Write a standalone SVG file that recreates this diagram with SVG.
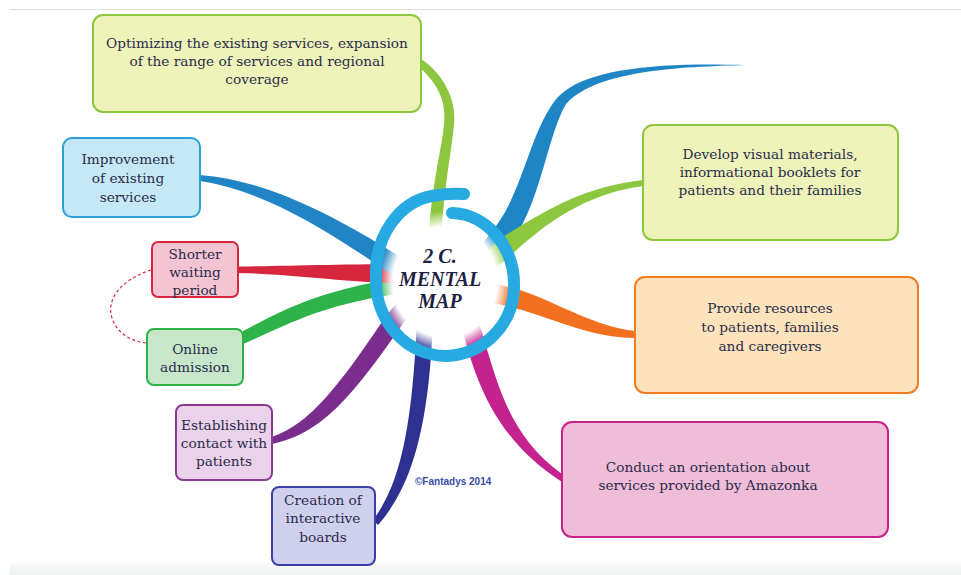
<svg xmlns="http://www.w3.org/2000/svg" width="961" height="575" viewBox="0 0 961 575">
  <defs>
    <radialGradient id="coreFade" cx="0.5" cy="0.5" r="0.5">
      <stop offset="0" stop-color="#ffffff" stop-opacity="1"/>
      <stop offset="0.78" stop-color="#ffffff" stop-opacity="1"/>
      <stop offset="1" stop-color="#ffffff" stop-opacity="0"/>
    </radialGradient>
    <linearGradient id="footBand" x1="0" y1="0" x2="0" y2="1">
      <stop offset="0" stop-color="#fafbfb"/>
      <stop offset="1" stop-color="#eef1f1"/>
    </linearGradient>
    <style>
      .box { stroke-width: 2; }
      .lbl { font-family: "DejaVu Serif", "Liberation Serif", serif; font-size: 13.7px; fill: #2b2c4c; text-anchor: middle; }
      .title { font-family: "Liberation Serif", "DejaVu Serif", serif; font-size: 20px; font-weight: bold; font-style: italic; fill: #1f1f45; text-anchor: middle; }
      .credit { font-family: "Liberation Sans", Arial, sans-serif; font-size: 10px; font-weight: bold; fill: #3a4ca6; }
    </style>
  </defs>

  <rect width="961" height="575" fill="#ffffff"/>
  <line x1="10" y1="9.5" x2="961" y2="9.5" stroke="#dddddd" stroke-width="1"/>
  <rect x="10" y="563" width="951" height="12" fill="url(#footBand)"/>

  <!-- tapered branches radiating from the hub -->
  <g id="connectors">
    <!-- to "Optimizing" -->
    <path fill="#8dc63f" d="M421,59 C443,73 457,100 454,125 C451,156 443,190 441,248 L428,248 C431,185 441,154 444,125 C447,101 437,83 420,68 Z"/>
    <!-- free blue branch, top right -->
    <path fill="#1f86c6" d="M477,252 L491,232 C522,198 529,132 557,98 C587,64 680,63 745,65 C680,67 597,70 566,104 C546,138 540,212 505,250 L490,267 Z"/>
    <!-- to "Develop visual materials" -->
    <path fill="#8dc63f" d="M480,258 L498,240 C540,214 580,187 643,180 L643,186 C586,194 546,222 508,258 L488,274 Z"/>
    <!-- to "Provide resources" -->
    <path fill="#f37021" d="M476,283 L492,284 C540,289 582,325 635,331 L635,338 C584,338 540,311 492,303 L476,300 Z"/>
    <!-- to "Conduct an orientation" -->
    <path fill="#c4238f" d="M457,316 L463,332 C478,390 500,442 562,482 L562,474 C513,438 500,395 482,332 L474,314 Z"/>
    <!-- to "Creation of interactive boards" -->
    <path fill="#2e3192" d="M373,520 C397,488 412,440 417,318 L433,318 C429,440 407,492 378,525 Z"/>
    <!-- to "Establishing contact" -->
    <path fill="#7b2d8e" d="M272,437 C305,425 330,400 386,316 L402,296 L415,306 L402,325 C350,400 320,434 272,444 Z"/>
    <!-- to "Online admission" -->
    <path fill="#2db34a" d="M243,331 C280,312 320,288 414,276 L414,292 C322,302 284,327 243,344 Z"/>
    <!-- to "Shorter waiting period" -->
    <path fill="#d7263d" d="M238,266.5 C290,266 340,264 414,264 L414,284 C340,282 290,274 238,273 Z"/>
    <!-- to "Improvement" -->
    <path fill="#2185c5" d="M200,175 C261,180 323,208 402,258 L416,268 L408,283 L392,275 C316,222 258,190 200,181 Z"/>
    <!-- dashed link between the two waiting-time boxes -->
    <path fill="none" stroke="#d7263d" stroke-width="1.2" stroke-dasharray="3 2.5" d="M151,270 C120,280 106,300 112,318 C118,336 135,342 147,343"/>
  </g>

  <!-- hub -->
  <g id="hub">
    <ellipse cx="445" cy="282" rx="67" ry="71" fill="url(#coreFade)"/>
    <path fill="none" stroke="#27aae1" stroke-width="12" stroke-linecap="round"
          d="M452,213 A64 72 0 0 1 514 288 A70 70 0 0 1 446 356 A70 76 0 0 1 376 276 A66 78 0 0 1 432 196 Q448,193 464,194"/>
    <text class="title" x="440" y="263">2 C.</text>
    <text class="title" x="440" y="286">MENTAL</text>
    <text class="title" x="440" y="308">MAP</text>
  </g>

  <g id="node-optimizing">
    <rect class="box" x="93" y="15" width="328" height="97" rx="10" fill="#eef3b9" stroke="#8dc63f"/>
    <text class="lbl" x="257" y="48">Optimizing the existing services, expansion</text>
    <text class="lbl" x="257" y="66">of the range of services and regional</text>
    <text class="lbl" x="257" y="84">coverage</text>
  </g>

  <g id="node-improvement">
    <rect class="box" x="63" y="138" width="137" height="79" rx="9" fill="#c5e8f7" stroke="#2a9fd8"/>
    <text class="lbl" x="128" y="164">Improvement</text>
    <text class="lbl" x="128" y="183">of existing</text>
    <text class="lbl" x="128" y="202">services</text>
  </g>

  <g id="node-shorter">
    <rect class="box" x="152" y="242" width="86" height="55" rx="6" fill="#f5c4d3" stroke="#d7263d"/>
    <text class="lbl" x="195" y="259">Shorter</text>
    <text class="lbl" x="195" y="277">waiting</text>
    <text class="lbl" x="195" y="295">period</text>
  </g>

  <g id="node-online">
    <rect class="box" x="147" y="329" width="96" height="56" rx="7" fill="#c8e6c9" stroke="#2db34a"/>
    <text class="lbl" x="195" y="354">Online</text>
    <text class="lbl" x="195" y="372">admission</text>
  </g>

  <g id="node-establishing">
    <rect class="box" x="176" y="405" width="96" height="75" rx="7" fill="#ead2ea" stroke="#8b3a96"/>
    <text class="lbl" x="224" y="430">Establishing</text>
    <text class="lbl" x="224" y="448">contact with</text>
    <text class="lbl" x="224" y="466">patients</text>
  </g>

  <g id="node-creation">
    <rect class="box" x="272" y="487" width="103" height="78" rx="7" fill="#cfd0ee" stroke="#3b3fa5"/>
    <text class="lbl" x="323" y="505">Creation of</text>
    <text class="lbl" x="323" y="523">interactive</text>
    <text class="lbl" x="323" y="542">boards</text>
  </g>

  <g id="node-develop">
    <rect class="box" x="643" y="125" width="255" height="115" rx="10" fill="#eef3b9" stroke="#8dc63f"/>
    <text class="lbl" x="770" y="159">Develop visual materials,</text>
    <text class="lbl" x="770" y="177">informational booklets for</text>
    <text class="lbl" x="770" y="195">patients and their families</text>
  </g>

  <g id="node-provide">
    <rect class="box" x="635" y="277" width="283" height="116" rx="10" fill="#fde3bb" stroke="#f47b20"/>
    <text class="lbl" x="770" y="313">Provide resources</text>
    <text class="lbl" x="770" y="332">to patients, families</text>
    <text class="lbl" x="770" y="351">and caregivers</text>
  </g>

  <g id="node-conduct">
    <rect class="box" x="562" y="422" width="326" height="115" rx="10" fill="#efbdd8" stroke="#c8228b"/>
    <text class="lbl" x="708" y="472">Conduct an orientation about</text>
    <text class="lbl" x="708" y="490">services provided by Amazonka</text>
  </g>

  <text class="credit" x="415" y="485">©Fantadys 2014</text>
</svg>
